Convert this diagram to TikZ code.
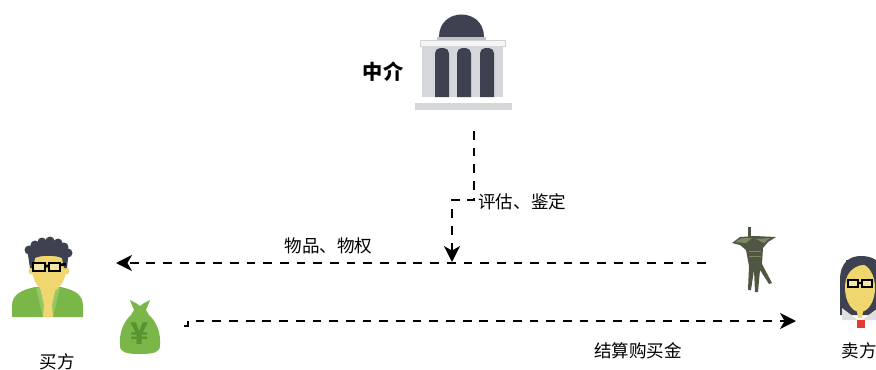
\documentclass[tikz,border=0pt]{standalone}
\usepackage{fontspec}
\setmainfont{Noto Sans CJK SC}
\usetikzlibrary{arrows.meta}

\definecolor{slate}{HTML}{3E4150}
\definecolor{pillar}{HTML}{D5D7DB}
\definecolor{leaf}{HTML}{7AB648}
\definecolor{leafdark}{HTML}{56952F}
\definecolor{leaflight}{HTML}{93C865}
\definecolor{skin}{HTML}{EFD66E}
\definecolor{bronze}{HTML}{4F5742}
\definecolor{patina}{HTML}{7D8866}
\definecolor{tie}{HTML}{E53935}

\tikzset{
  flow/.style={draw=black, line width=1.6pt, dash pattern=on 5pt off 4.5pt,
    -{Stealth[length=9pt, width=9pt, inset=2.5pt]}},
  lbl/.style={inner sep=0pt, font=\fontsize{10}{12}\selectfont},
}

\begin{document}
\begin{tikzpicture}[x=0.02cm, y=-0.02cm]
  \useasboundingbox (0,0) rectangle (876,369);
  \clip (0,0) rectangle (876,369);

  % bank building (agent)
  \fill[slate] (439,37) .. controls (439,7) and (484,7) .. (484,37) -- cycle;
  \fill[pillar!90!black] (437,37) rectangle (486,40);
  \filldraw[fill=gray!8, draw=gray!35] (420,40) rectangle (505,46);
  \fill[pillar] (422,46) rectangle (503,97);
  \foreach \cx in {435,457,480}
    \fill[slate] (\cx,97) [rounded corners=3pt] -- (\cx,48) -- (\cx+14,48)
      [sharp corners] -- (\cx+14,97) -- cycle;
  \fill[pillar] (415,103) rectangle (512,110);
  \node[lbl, font=\bfseries\fontsize{11.5}{13}\selectfont] (agent) at (383,72) {中介};

  % buyer
  \fill[leaf] (12,317) -- (12,306) .. controls (12,294) and (22,290) .. (35,287)
    -- (61,287) .. controls (74,290) and (83,294) .. (83,306) -- (83,317) -- cycle;
  \fill[skin] (38,282) -- (58,282) -- (54,300) -- (53,317) -- (43,317) -- (42,300) -- cycle;
  \fill[leaflight] (36,288) -- (40,288) -- (44,305) -- (43,316) -- cycle;
  \fill[leaflight] (60,288) -- (56,288) -- (52,305) -- (53,316) -- cycle;
  \fill[skin] (32,271) circle[radius=3.5];
  \fill[skin] (66,271) circle[radius=3.5];
  \fill[skin] (49,268) ellipse[x radius=17, y radius=24];
  \fill[slate] (30,268) -- (28,255) .. controls (26,245) and (36,240) .. (42,243)
    .. controls (46,238) and (56,239) .. (59,243) .. controls (67,242) and (71,250) .. (68,258)
    -- (67,268) -- (64,268) -- (62,258) .. controls (55,255) and (41,255) .. (35,258)
    -- (33,268) -- cycle;
  \foreach \hx/\hy in {29/250, 35/245, 42/242, 50/241, 58/243, 64/247, 68/253}
    \fill[slate] (\hx,\hy) circle[radius=4.5];
  \filldraw[fill=skin!60!white, draw=black, line width=1.5pt]
    (33,263) rectangle (45,271) (49,263) rectangle (60,271);
  \draw[black, line width=1.5pt] (45,266) -- (49,266) (60,265) -- (66,264);
  \node[lbl] (buyer) at (57,362) {买方};

  % money bag
  \fill[leaf] (130,300) -- (136,303) -- (140,306) -- (144,303) -- (150,300) -- (146,310)
    -- (149,315) .. controls (157,322) and (161,334) .. (160,345)
    .. controls (160,352) and (155,354) .. (140,354)
    .. controls (125,354) and (120,352) .. (120,345)
    .. controls (119,334) and (123,322) .. (131,315) -- (134,310) -- cycle;
  \node[inner sep=0pt, text=leafdark, font=\bfseries\fontsize{17}{17}\selectfont]
    (cash) at (140,334) {¥};

  % bronze vessel
  \fill[bronze] (732,243) -- (740,237) -- (755,236) -- (776,237) -- (768,242)
    -- (763,248) -- (762,264) -- (772,283) -- (769,284) -- (760,270) -- (758,292)
    -- (755,292) -- (754,270) -- (751,290) -- (748,290) -- (749,266) -- (746,250)
    -- (740,245) -- cycle;
  \fill[patina] (735,242) -- (742,238) -- (752,238) -- (746,243) -- cycle;
  \fill[patina] (756,239) -- (770,238) -- (764,243) -- cycle;
  \fill[bronze] (748,237) rectangle (751,227);
  \foreach \ry in {251,256}
    \draw[patina, line width=0.5pt] (749,\ry) -- (761,\ry);

  % seller
  \fill[slate] (840,315) -- (840,280) .. controls (840,262) and (850,256) .. (861,256)
    .. controls (874,256) and (884,262) .. (884,280) -- (884,315) -- cycle;
  \fill[skin] (860,288) ellipse[x radius=15, y radius=24];
  \fill[skin] (856,305) -- (864,305) -- (862,318) -- (858,318) -- cycle;
  \fill[slate] (846,279) .. controls (850,265) and (866,261) .. (878,268)
    -- (878,260) -- (846,260) -- cycle;
  \fill[gray!25] (842,308) -- (858,320) -- (862,320) -- (878,308) -- (878,320) -- (842,320) -- cycle;
  \fill[tie] (857,320) rectangle (865,328);
  \filldraw[fill=skin!60!white, draw=black, line width=1.5pt]
    (848,280) rectangle (858,287) (862,280) rectangle (872,287);
  \draw[black, line width=1.5pt] (858,283) -- (862,283);
  \node[lbl] (seller) at (859,351) {卖方};

  % connector ends
  \coordinate (bank-foot) at (474,131);
  \coordinate (bend) at (474,200);
  \coordinate (deal) at (452,262);
  \coordinate (goods-out) at (706,263);
  \coordinate (buyer-in) at (116,263);
  \coordinate (pay-out) at (184,326);
  \coordinate (seller-in) at (796,321);

  % flows
  \draw[flow] (bank-foot) -- (bend) -| (deal);
  \node[lbl, anchor=west] (appraise) at (478,201.5) {评估、鉴定};
  \draw[flow] (goods-out) -- node[lbl, pos=0.64, yshift=0.34cm] (title) {物品、物权} (buyer-in);
  \draw[flow] (pay-out) -- ++(4,0) |- (seller-in);
  \node[lbl] (payment) at (638,351) {结算购买金};
\end{tikzpicture}
\end{document}
